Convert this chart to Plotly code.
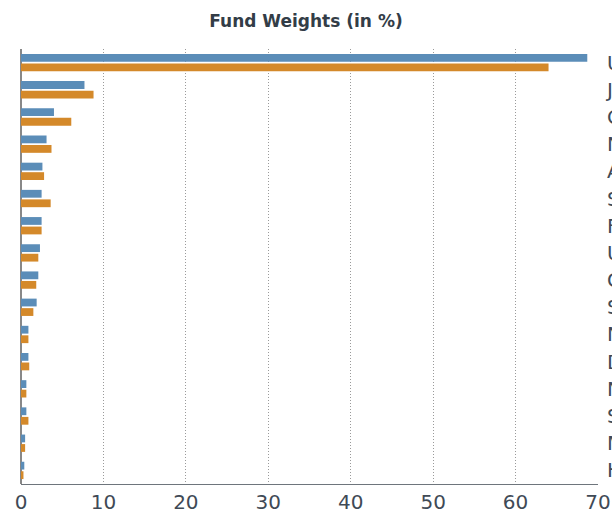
import plotly.graph_objects as go

categories = ["United States", "Japan", "Canada", "Netherlands", "Australia", "Switzerland",
              "France", "United Kingdom", "Germany", "Sweden", "Norway", "Denmark",
              "New Zealand", "Spain", "Mexico", "Hong Kong"]
fund = [68.7, 7.7, 4.0, 3.1, 2.6, 2.5, 2.5, 2.3, 2.1, 1.9, 0.9, 0.9, 0.65, 0.65, 0.5, 0.4]
benchmark = [64.0, 8.8, 6.1, 3.7, 2.8, 3.6, 2.5, 2.1, 1.85, 1.5, 0.9, 1.0, 0.65, 0.9, 0.5, 0.3]
x_ticks = [0, 10, 20, 30, 40, 50, 60, 70]

fig = go.Figure()
fig.add_trace(go.Bar(y=categories, x=fund, orientation="h", name="Fund",
                     marker=dict(color="#5b8db8", line=dict(width=0))))
fig.add_trace(go.Bar(y=categories, x=benchmark, orientation="h", name="Benchmark",
                     marker=dict(color="#d4892a", line=dict(width=0))))

fig.update_layout(
    width=612, height=515,
    margin=dict(l=21, r=14, t=49, b=31, autoexpand=False),
    paper_bgcolor="white", plot_bgcolor="white",
    barmode="group", bargap=0.3, bargroupgap=0.18,
    showlegend=False,
    title=dict(text="<b>Fund Weights (in %)</b>", x=0.5, xanchor="center", y=0.96, yanchor="middle",
               font=dict(family="DejaVu Sans, Verdana, sans-serif", size=17, color="#333d47")),
    font=dict(family="DejaVu Sans, Verdana, sans-serif", color="#3f4a56"),
)
fig.update_xaxes(range=[0, 70], tickvals=x_ticks, showgrid=True, gridcolor="#9a9a9a",
                 griddash="1px,2px", gridwidth=1, zeroline=True, zerolinecolor="#888888",
                 zerolinewidth=2, showline=True, linecolor="#6e757c", linewidth=1,
                 ticks="", tickfont=dict(size=20, color="#3f4a56"), automargin=False)
fig.update_yaxes(side="right", autorange="reversed", showgrid=False, showline=False,
                 ticks="", tickfont=dict(size=20, color="#3f4a56"), automargin=False,
                 ticklabelstandoff=8)

fig.write_html("out.html", config={"displayModeBar": False},
               post_script="document.body.style.margin='0';document.body.style.overflow='hidden';")
